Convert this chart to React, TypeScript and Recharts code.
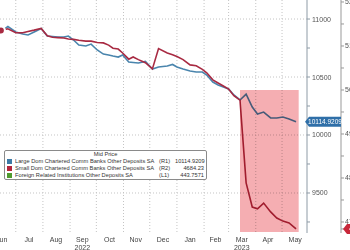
import { ComposedChart, Line, XAxis, YAxis, CartesianGrid, ReferenceArea } from "recharts";

const dates = [
  "2022-06-14", "2022-06-22", "2022-07-01", "2022-07-09", "2022-07-15", "2022-07-22", "2022-07-30",
  "2022-08-06", "2022-08-12", "2022-08-18", "2022-08-25", "2022-08-30", "2022-09-05", "2022-09-11",
  "2022-09-19", "2022-09-25", "2022-10-02", "2022-10-09", "2022-10-15", "2022-10-20", "2022-10-26",
  "2022-10-31", "2022-11-07", "2022-11-12", "2022-11-18", "2022-11-26", "2022-12-04", "2022-12-11",
  "2022-12-21", "2022-12-27", "2023-01-01", "2023-01-08", "2023-01-16", "2023-01-23", "2023-01-30",
  "2023-02-04", "2023-02-11", "2023-02-17", "2023-02-23", "2023-03-01", "2023-03-07", "2023-03-14",
  "2023-03-21", "2023-03-28", "2023-04-03", "2023-04-10", "2023-04-18", "2023-04-25", "2023-05-02",
  "2023-05-09", "2023-05-17",
];

// Large Dom Chartered Comm Banks Other Deposits SA (R1)
const largeBanks = [
  10892, 10935, 10888, 10871, 10862, 10888, 10918, 10853, 10849, 10845,
  10845, 10853, 10819, 10776, 10767, 10784, 10733, 10698, 10690, 10681,
  10672, 10690, 10629, 10625, 10621, 10634, 10569, 10586, 10595, 10608,
  10586, 10569, 10552, 10543, 10543, 10517, 10457, 10431, 10414, 10397,
  10345, 10302, 10353, 10241, 10181, 10198, 10147, 10147, 10155, 10138,
  10114.9209,
];

// Small Dom Chartered Comm Banks Other Deposits SA (R2)
const smallBanks = [
  5135, 5139, 5130, 5130, 5133, 5136, 5140, 5123, 5120, 5119,
  5118, 5116, 5115, 5113, 5111, 5111, 5108, 5107, 5102, 5095,
  5093, 5084, 5070, 5075, 5069, 5062, 5048, 5094, 5084, 5080,
  5076, 5069, 5057, 5055, 5047, 5039, 5023, 5016, 5009, 5002,
  4987, 4977, 4789, 4734, 4730, 4743, 4723, 4709, 4702, 4698,
  4684.23,
];

const monthStarts = [
  "2022-07-01", "2022-08-01", "2022-09-01", "2022-10-01", "2022-11-01", "2022-12-01",
  "2023-01-01", "2023-02-01", "2023-03-01", "2023-04-01", "2023-05-01",
];
const monthMids = [
  "2022-06-15", "2022-07-16", "2022-08-16", "2022-09-15", "2022-10-16", "2022-11-15",
  "2022-12-16", "2023-01-16", "2023-02-14", "2023-03-16", "2023-04-15", "2023-05-16",
];
const monthLabels = ["Jun", "Jul", "Aug", "Sep", "Oct", "Nov", "Dec", "Jan", "Feb", "Mar", "Apr", "May"];
const yearLabels: Record<string, string> = { Sep: "2022", Mar: "2023" };

const r1Ticks = [9250, 9500, 9750, 10000, 10250, 10500, 10750, 11000];
const r1Grid = [9500, 10000, 10500, 11000];
const r2Ticks = [4700, 4750, 4800, 4850, 4900, 4950, 5000, 5050, 5100, 5150, 5200];

const legendTitle = "Mid Price";
const legendNames = [
  "Large Dom Chartered Comm Banks Other Deposits SA",
  "Small Dom Chartered Comm Banks Other Deposits SA",
  "Foreign Related Institutions Other Deposits SA",
];
const legendAxes = ["(R1)", "(R2)", "(L1)"];
const legendValues = ["10114.9209", "4684.23", "443.7571"];
const legendColors = ["#3d7aa6", "#b3243c", "#4f9a2f"];

const ts = (s: string) => Date.parse(s);
const data = dates.map((d, i) => ({ t: ts(d), large: largeBanks[i], small: smallBanks[i] }));
const xDomain = [ts("2022-06-13"), ts("2023-05-29T12:00:00Z")];
const lastLarge = largeBanks[largeBanks.length - 1];
const lastSmall = smallBanks[smallBanks.length - 1];

const BLUE = "#4a85ad";
const RED = "#a82a42";
const FONT = "'Liberation Sans', Arial, sans-serif";

const MonthTick = ({ x, y, payload }: any) => {
  const label = monthLabels[monthMids.map(ts).indexOf(payload.value)];
  const year = yearLabels[label];
  return (
    <g>
      <text x={x} y={y + 9} textAnchor="middle" fontSize={7} fill="#444" fontFamily={FONT}>{label}</text>
      {year && (
        <text x={x} y={y + 16.5} textAnchor="middle" fontSize={7} fill="#444" fontFamily={FONT}>{year}</text>
      )}
    </g>
  );
};

const BoundaryTick = ({ x, y, payload }: any) =>
  payload.value === ts("2023-01-01") ? <line x1={x} x2={x} y1={y} y2={y + 16} stroke="#bbb" /> : <g />;

// right axis ticks: label every 500, and the last-value tag
const R1Tick = ({ x, y, payload }: any) => {
  if (payload.value === lastLarge) {
    return (
      <g>
        <polygon
          points={`${x - 7},${y} ${x - 3},${y - 5} ${x + 29},${y - 5} ${x + 29},${y + 5} ${x - 3},${y + 5}`}
          fill="#2f6fa8"
        />
        <text x={x + 13} y={y + 2.4} textAnchor="middle" fontSize={6.5} fill="#fff" fontFamily={FONT}>
          {lastLarge.toFixed(4)}
        </text>
      </g>
    );
  }
  return payload.value % 500 === 0 ? (
    <text x={x} y={y + 2.5} fontSize={7} fill="#555" fontFamily={FONT}>{payload.value}</text>
  ) : <g />;
};

const R2Tick = ({ x, y, payload }: any) => {
  if (payload.value === lastSmall) {
    return (
      <g>
        <polygon
          points={`${x - 2},${y} ${x + 2},${y - 5} ${x + 40},${y - 5} ${x + 40},${y + 5} ${x + 2},${y + 5}`}
          fill="#c8283a"
        />
        <text x={x + 4} y={y + 2.4} fontSize={6.5} fill="#fff" fontFamily={FONT}>{lastSmall.toFixed(2)}</text>
      </g>
    );
  }
  return payload.value % 100 === 0 ? (
    <text x={x} y={y + 2.5} fontSize={7} fill="#555" fontFamily={FONT}>{payload.value}</text>
  ) : <g />;
};

export default function App() {
  return (
    <div style={{ position: "absolute", left: 0, top: 0, width: 350, height: 250, overflow: "hidden", background: "#fff" }}>
      <ComposedChart width={350} height={250} data={data} margin={{ top: 0, right: 0, bottom: 0, left: 0 }}>
        <CartesianGrid
          xAxisId="grid"
          yAxisId="r1"
          horizontalValues={r1Grid}
          verticalValues={monthStarts.map(ts)}
          stroke="#c4c4c4"
          strokeDasharray="1 2"
        />
        <XAxis
          xAxisId="grid"
          dataKey="t"
          type="number"
          domain={xDomain}
          ticks={monthStarts.map(ts)}
          interval={0}
          height={0}
          tickSize={3}
          tick={<BoundaryTick />}
          tickLine={{ stroke: "#999" }}
          axisLine={{ stroke: "#999" }}
        />
        <XAxis
          xAxisId="main"
          dataKey="t"
          type="number"
          domain={xDomain}
          ticks={monthMids.map(ts)}
          interval={0}
          height={17}
          tickSize={0}
          tickMargin={0}
          tickLine={false}
          axisLine={false}
          tick={<MonthTick />}
        />
        <YAxis
          yAxisId="r1"
          orientation="right"
          width={34}
          domain={[9155, 11164]}
          ticks={[...r1Ticks, lastLarge]}
          interval={0}
          tickSize={3}
          tickMargin={2}
          tick={<R1Tick />}
          tickLine={{ stroke: "#8e9ba6" }}
          axisLine={{ stroke: "#8e9ba6" }}
        />
        <YAxis
          yAxisId="r2"
          orientation="right"
          width={9}
          domain={[4675, 5204.5]}
          ticks={[...r2Ticks, lastSmall]}
          interval={0}
          tickSize={3}
          tickMargin={1}
          tick={<R2Tick />}
          tickLine={{ stroke: "#999" }}
          axisLine={{ stroke: "#999" }}
        />
        <Line
          xAxisId="main"
          yAxisId="r1"
          dataKey="large"
          stroke={BLUE}
          strokeWidth={1.6}
          dot={false}
          isAnimationActive={false}
        />
        <Line
          xAxisId="main"
          yAxisId="r2"
          dataKey="small"
          stroke={RED}
          strokeWidth={1.6}
          dot={false}
          isAnimationActive={false}
        />
        <ReferenceArea
          xAxisId="main"
          yAxisId="r1"
          x1={ts("2023-03-14")}
          x2={ts("2023-05-20")}
          y1={9164}
          y2={10388}
          fill="#f5aeb2"
          fillOpacity={1}
          stroke="none"
          zIndex={1000}
          style={{ mixBlendMode: "multiply" }}
        />
      </ComposedChart>
      <div
        style={{
          position: "absolute",
          left: 4,
          top: 150,
          width: 203,
          height: 30,
          border: "1px solid #8a8a8a",
          borderRadius: 2,
          background: "#fff",
          fontFamily: FONT,
          fontSize: 5.7,
          lineHeight: "7px",
          color: "#333",
          padding: "0px 2px",
          boxSizing: "border-box",
        }}
      >
        <div style={{ textAlign: "center" }}>{legendTitle}</div>
        {legendNames.map((name, i) => (
          <div key={name} style={{ display: "flex", alignItems: "center", whiteSpace: "nowrap" }}>
            <span style={{ width: 5, height: 5, background: legendColors[i], marginRight: 3, flex: "none" }} />
            <span style={{ width: 144, flex: "none", overflow: "hidden" }}>{name}</span>
            <span style={{ width: 16, flex: "none" }}>{legendAxes[i]}</span>
            <span style={{ flex: 1, textAlign: "right" }}>{legendValues[i]}</span>
          </div>
        ))}
      </div>
    </div>
  );
}
